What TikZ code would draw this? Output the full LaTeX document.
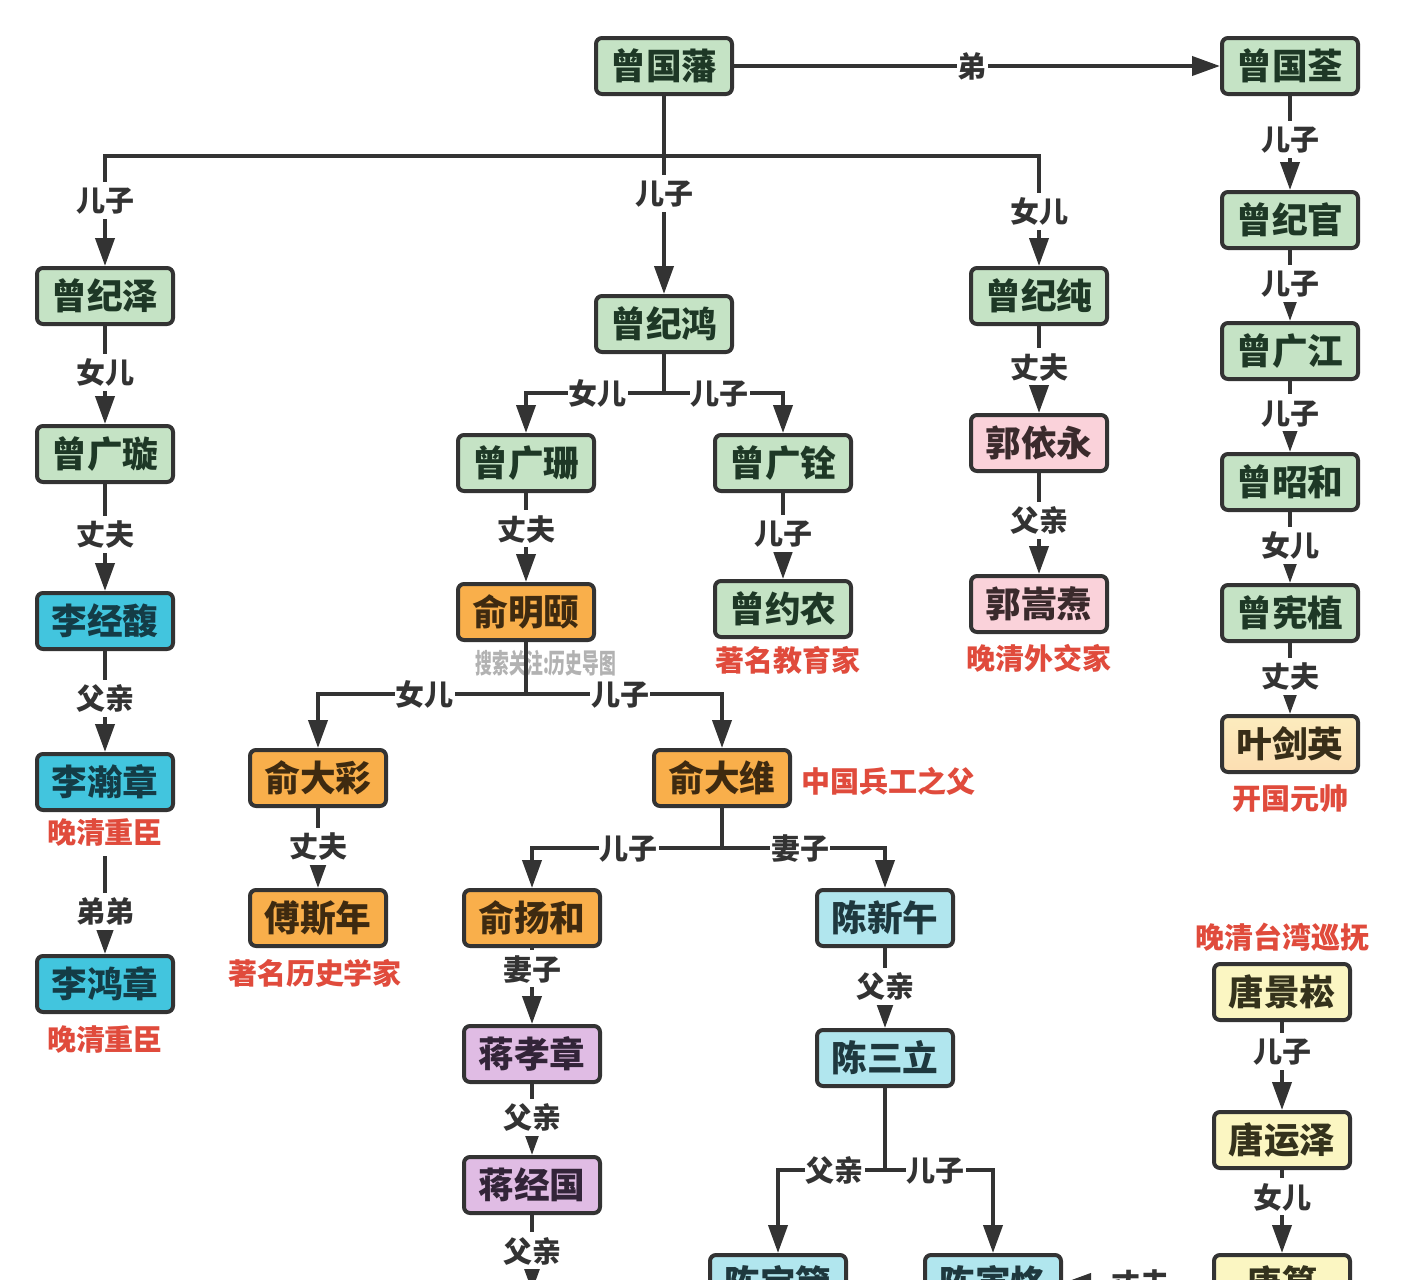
\documentclass[tikz,border=0pt]{standalone}
\usepackage{fontspec}
\setmainfont{Noto Sans CJK SC}
\usetikzlibrary{arrows.meta,positioning,calc}
\definecolor{inkline}{HTML}{333333}
\definecolor{rednote}{HTML}{E04B3C}
\tikzset{
    %Define standard arrow tip
    >={Triangle[length=0.56cm,width=0.38cm]},
    %Define style for boxes
    person/.style={
      rectangle,
      rounded corners=0.12cm,
      draw=inkline, line width=0.08cm,
      minimum width=2.72cm,
      minimum height=1.12cm,
      inner sep=0pt,
      font=\fontsize{20.3pt}{22pt}\selectfont\bfseries},
    greenbox/.style={person, fill={rgb,255:red,197;green,227;blue,197}, text={rgb,255:red,30;green,56;blue,38}},
    bluebox/.style={person, fill={rgb,255:red,66;green,197;blue,222}, text={rgb,255:red,20;green,60;blue,70}},
    orangebox/.style={person, fill={rgb,255:red,249;green,175;blue,75}, text={rgb,255:red,62;green,42;blue,16}},
    pinkbox/.style={person, fill={rgb,255:red,250;green,210;blue,218}, text={rgb,255:red,58;green,42;blue,44}},
    cyanbox/.style={person, fill={rgb,255:red,177;green,230;blue,238}, text={rgb,255:red,30;green,56;blue,62}},
    purplebox/.style={person, fill={rgb,255:red,224;green,188;blue,228}, text={rgb,255:red,50;green,36;blue,56}},
    yellowbox/.style={person, fill={rgb,255:red,251;green,246;blue,194}, text={rgb,255:red,52;green,50;blue,28}},
    peachbox/.style={person, top color={rgb,255:red,252;green,236;blue,190}, bottom color={rgb,255:red,252;green,222;blue,178}, text={rgb,255:red,56;green,46;blue,24}},
    % Define connector styles
    line/.style={draw=inkline, line width=0.08cm},
    arr/.style={line, ->},
    lbl/.style={
      fill=white,
      text=inkline,
      inner xsep=0.02cm,
      inner ysep=0.08cm,
      text height=0.52cm,
      text depth=0.06cm,
      font=\fontsize{16.5pt}{18pt}\selectfont\bfseries},
    note/.style={
      text=rednote,
      fill=white,
      inner sep=0pt,
      text height=0.52cm,
      text depth=0.06cm,
      font=\fontsize{16.5pt}{18pt}\selectfont\bfseries},
    wmark/.style={
      text=gray!60,
      inner sep=0pt,
      font=\fontsize{15.4pt}{17pt}\selectfont\bfseries}
}
\begin{document}
\begin{tikzpicture}[node distance=1cm]
    \clip (0,0) rectangle (28.16,-25.6);

    % top row
    \node[greenbox] (guofan) at (13.28,-1.32) {曾国藩};
    \node[greenbox, right=9.72cm of guofan] (guoquan) {曾国荃};

    % left column
    \node[greenbox, below=3.4cm of guofan, xshift=-11.18cm] (jize) {曾纪泽};
    \node[greenbox, below=1.96cm of jize] (guangxuan) {曾广璇};
    \node[bluebox, below=2.14cm of guangxuan] (jingfu) {李经馥};
    \node[bluebox, below=2.02cm of jingfu] (hanzhang) {李瀚章};
    \node[note, below=0.11cm of hanzhang] (hanzhangnote) {晚清重臣};
    \node[bluebox, below=2.84cm of hanzhang] (hongzhang) {李鸿章};
    \node[note, below=0.21cm of hongzhang] (hongzhangnote) {晚清重臣};

    % middle columns
    \node[greenbox, below=3.96cm of guofan] (jihong) {曾纪鸿};
    \node[greenbox, below=1.58cm of jihong, xshift=-2.76cm] (guangshan) {曾广珊};
    \node[greenbox, below=1.58cm of jihong, xshift=2.38cm] (guangquan) {曾广铨};
    \node[orangebox, below=1.78cm of guangshan] (mingyi) {俞明颐};
    \node[greenbox, below=1.72cm of guangquan] (yuenong) {曾约农};
    \node[note, below=0.13cm of yuenong, xshift=0.1cm] (yuenongnote) {著名教育家};
    \node[wmark, below=0.16cm of mingyi, xshift=0.4cm] (wmarktext) {\scalebox{.62}[1]{搜索关注:历史导图}};

    \node[orangebox, below=2.12cm of mingyi, xshift=-4.16cm] (dacai) {俞大彩};
    \node[orangebox, below=2.12cm of mingyi, xshift=3.92cm] (dawei) {俞大维};
    \node[note, right=0.19cm of dawei, yshift=-0.06cm] (daweinote) {中国兵工之父};
    \node[orangebox, below=1.6cm of dacai] (fusinian) {傅斯年};
    \node[note, below=0.21cm of fusinian, xshift=-0.06cm] (fusiniannote) {著名历史学家};

    \node[orangebox, below=1.6cm of dawei, xshift=-3.8cm] (yanghe) {俞扬和};
    \node[cyanbox, below=1.6cm of dawei, xshift=3.26cm] (xinwu) {陈新午};
    \node[purplebox, below=1.52cm of yanghe] (xiaozhang) {蒋孝章};
    \node[purplebox, below=1.42cm of xiaozhang] (jingguo) {蒋经国};
    \coordinate[below=1.52cm of jingguo] (jingguonext);
    \node[cyanbox, below=1.6cm of xinwu] (sanli) {陈三立};
    \node[cyanbox, below=3.3cm of sanli, xshift=-2.14cm] (baozhen) {陈宝箴};
    \node[cyanbox, below=3.3cm of sanli, xshift=2.16cm] (yinke) {陈寅恪};

    % right columns
    \node[greenbox, below=3.4cm of guofan, xshift=7.5cm] (jichun) {曾纪纯};
    \node[pinkbox, below=1.74cm of jichun] (yiyong) {郭依永};
    \node[pinkbox, below=2.02cm of yiyong] (songtao) {郭嵩焘};
    \node[note, below=0.19cm of songtao] (songtaonote) {晚清外交家};

    \node[greenbox, below=1.88cm of guoquan] (jiguan) {曾纪官};
    \node[greenbox, below=1.42cm of jiguan] (guangjiang) {曾广江};
    \node[greenbox, below=1.42cm of guangjiang] (zhaohe) {曾昭和};
    \node[greenbox, below=1.42cm of zhaohe] (xianzhi) {曾宪植};
    \node[peachbox, below=1.42cm of xianzhi] (jianying) {叶剑英};
    \node[note, below=0.19cm of jianying] (jianyingnote) {开国元帅};

    \node[yellowbox, below=3.76cm of jianying, xshift=-0.16cm] (jingsong) {唐景崧};
    \node[note, above=0.21cm of jingsong] (jingsongnote) {晚清台湾巡抚};
    \node[yellowbox, below=1.76cm of jingsong] (yunze) {唐运泽};
    \node[yellowbox, below=1.66cm of yunze] (tangyun) {唐筼};

    % forks
    \coordinate[below=1.2cm of guofan] (fork1);
    \coordinate[below=0.78cm of jihong] (fork2);
    \coordinate[below=1.04cm of mingyi] (fork3);
    \coordinate[below=0.8cm of dawei] (fork4);
    \coordinate[below=1.64cm of sanli] (fork5);

    \draw[arr] (guofan) -- node[lbl, pos=.49] {弟} (guoquan);
    \draw[line] (guofan) -- (fork1);
    \draw[arr] (fork1) -| node[lbl, pos=.7] {儿子} (jize);
    \draw[arr] (fork1) -- node[lbl, pos=.27] {儿子} (jihong);
    \draw[arr] (fork1) -| node[lbl, pos=.75] {女儿} (jichun);

    \draw[arr] (jize) -- node[lbl, pos=.47] {女儿} (guangxuan);
    \draw[arr] (guangxuan) -- node[lbl, pos=.47] {丈夫} (jingfu);
    \draw[arr] (jingfu) -- node[lbl, pos=.466] {父亲} (hanzhang);
    \draw[arr, shorten <=0.18cm] (hanzhangnote) -- node[lbl, pos=.6] {弟弟} (hongzhang);

    \draw[line] (jihong) -- (fork2);
    \draw[arr] (fork2) -| node[lbl, pos=.24] {女儿} (guangshan);
    \draw[arr] (fork2) -| node[lbl, pos=.235] {儿子} (guangquan);
    \draw[arr] (guangshan) -- node[lbl, pos=.4] {丈夫} (mingyi);
    \draw[arr] (guangquan) -- node[lbl, pos=.466] {儿子} (yuenong);

    \draw[line] (mingyi) -- (fork3);
    \draw[arr] (fork3) -| node[lbl, pos=.243] {女儿} (dacai);
    \draw[arr] (fork3) -| node[lbl, pos=.24] {儿子} (dawei);
    \draw[arr] (dacai) -- node[lbl, pos=.475] {丈夫} (fusinian);

    \draw[line] (dawei) -- (fork4);
    \draw[arr] (fork4) -| node[lbl, pos=.245] {儿子} (yanghe);
    \draw[arr] (fork4) -| node[lbl, pos=.24] {妻子} (xinwu);
    \draw[arr] (yanghe) -- node[lbl, pos=.27] {妻子} (xiaozhang);
    \draw[arr] (xiaozhang) -- node[lbl, pos=.466] {父亲} (jingguo);
    \draw[arr] (jingguo) -- node[lbl, pos=.47] {父亲} (jingguonext);

    \draw[arr] (xinwu) -- node[lbl, pos=.475] {父亲} (sanli);
    \draw[line] (sanli) -- (fork5);
    \draw[arr] (fork5) -| node[lbl, pos=.234] {父亲} (baozhen);
    \draw[arr] (fork5) -| node[lbl, pos=.236] {儿子} (yinke);

    \draw[arr] (jichun) -- node[lbl, pos=.47] {丈夫} (yiyong);
    \draw[arr] (yiyong) -- node[lbl, pos=.466] {父亲} (songtao);

    \draw[arr] (guoquan) -- node[lbl, pos=.46] {儿子} (jiguan);
    \draw[arr] (jiguan) -- node[lbl, pos=.466] {儿子} (guangjiang);
    \draw[arr] (guangjiang) -- node[lbl, pos=.45] {儿子} (zhaohe);
    \draw[arr] (zhaohe) -- node[lbl, pos=.466] {女儿} (xianzhi);
    \draw[arr] (xianzhi) -- node[lbl, pos=.466] {丈夫} (jianying);

    \draw[arr] (jingsong) -- node[lbl, pos=.33] {儿子} (yunze);
    \draw[arr] (yunze) -- node[lbl, pos=.32] {女儿} (tangyun);
    \draw[arr] (tangyun) -- node[lbl, pos=.48] {丈夫} (yinke);
\end{tikzpicture}
\end{document}
